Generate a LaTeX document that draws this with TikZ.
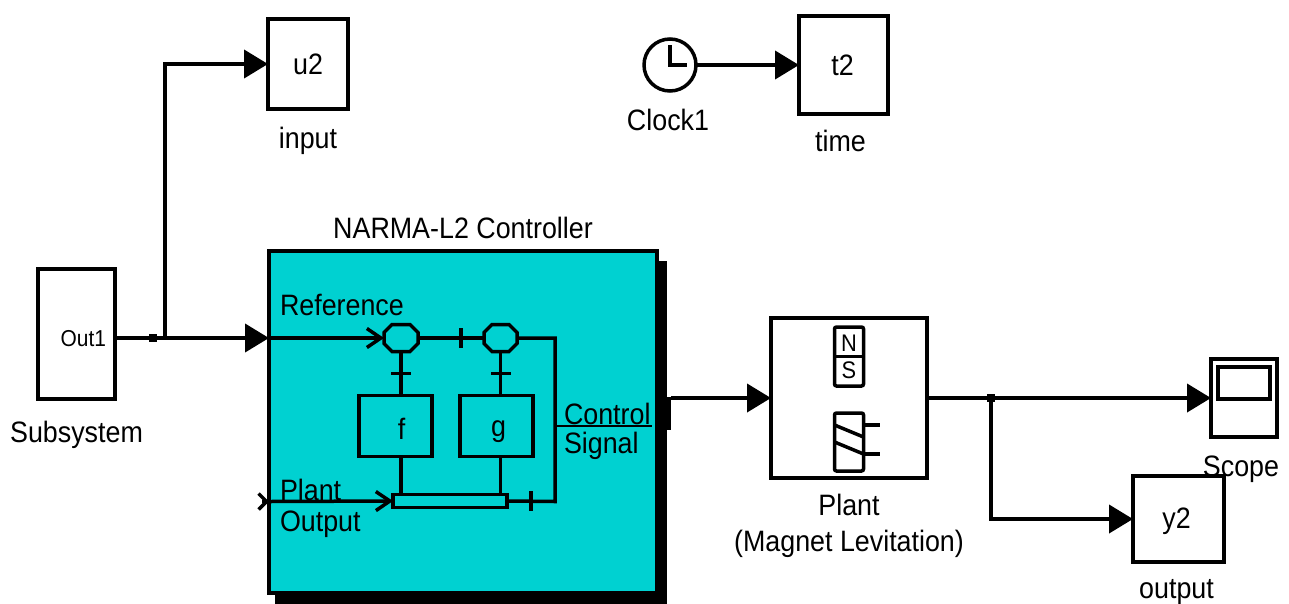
\documentclass[tikz,border=0pt]{standalone}
\usepackage{fontspec}
\setmainfont[FakeStretch=0.91]{Liberation Sans}
\usetikzlibrary{positioning,arrows.meta,shadows}
\definecolor{narmacyan}{RGB}{0,209,209}
\tikzset{
  blockbox/.style={draw,line width=4pt,inner sep=0pt,outer sep=0pt,fill=white},
  innerbox/.style={draw,line width=3.5pt,inner sep=0pt,outer sep=0pt},
  sumbox/.style={inner sep=0pt,outer sep=0pt,minimum height=27pt},
  lbl/.style={font=\fontsize{29.5}{36}\selectfont,inner sep=0pt,outer sep=0pt},
  wire/.style={line width=4pt,-{Triangle[length=24pt,width=28pt]}},
  innerwire/.style={line width=3.5pt},
  barbwire/.style={line width=3.5pt,-{Straight Barb[length=14pt,width=19pt,line width=3.5pt]}},
  joint/.style={fill=black,minimum size=8pt,inner sep=0pt,outer sep=0pt},
  tickv/.style={fill=black,minimum width=3.5pt,minimum height=20pt,inner sep=0pt},
  tickh/.style={fill=black,minimum width=20pt,minimum height=3.5pt,inner sep=0pt},
}
\begin{document}
\begin{tikzpicture}[x=1pt,y=-1pt]
\useasboundingbox (0,0) rectangle (1289,603);
% top row and left block
\node[blockbox,minimum width=77pt,minimum height=130pt] (subsystem) at (76.5,334) {};
\node[lbl,font=\fontsize{23}{24}\selectfont,left=9pt of subsystem.east,yshift=-5pt] (out1) {Out1};
\node[lbl,below=22pt of subsystem] (subsystemlbl) {Subsystem};
\node[blockbox,minimum width=80pt,minimum height=90pt,right=153pt of subsystem.east,yshift=270pt] (u2) {};
\node[lbl] (u2txt) at (u2) {u2};
\node[lbl,below=18pt of u2] (inputlbl) {input};
\node[blockbox,circle,minimum size=52pt,line width=3.5pt,right=296pt of u2.east,yshift=-1pt] (clock) {};
\draw[line width=3.5pt] ([yshift=20pt]clock.center) -- (clock.center) -- ([xshift=17pt]clock.center);
\node[lbl,below=18pt of clock,xshift=-2pt] (clocklbl) {Clock1};
\node[blockbox,minimum width=89pt,minimum height=98pt,right=103pt of clock] (t2) {};
\node[lbl,xshift=-1pt] (t2txt) at (t2) {t2};
\node[lbl,below=16pt of t2,xshift=-3pt] (timelbl) {time};
% controller
\node[blockbox,fill=narmacyan,minimum width=388pt,minimum height=342pt,right=154pt of subsystem.east,yshift=-88pt,
  copy shadow={shadow xshift=8pt,shadow yshift=-12pt,fill=black,draw=black}] (controller) {};
\node[lbl,above=12pt of controller] (controllerlbl) {NARMA-L2 Controller};
\node[fill=black,minimum width=12pt,minimum height=33pt,inner sep=0pt,outer sep=0pt,right=390pt of controller.west,yshift=8.5pt] (port) {};
\node[lbl,right=11pt of controller.west,yshift=117pt] (reflbl) {Reference};
\node[lbl,right=11pt of controller.west,yshift=-68pt] (plantin) {Plant};
\node[lbl,right=11pt of controller.west,yshift=-102pt] (outputin) {Output};
\node[lbl,right=295pt of controller.west,yshift=8pt] (controltxt) {Control};
\node[lbl,right=295pt of controller.west,yshift=-24pt] (signaltxt) {Signal};
\node[sumbox,minimum width=34pt,right=115pt of controller.west,yshift=84pt] (sumf) {};
\node[sumbox,minimum width=33pt,right=66pt of sumf] (sumg) {};
\foreach \s in {sumf,sumg}
  \draw[innerwire] ([xshift=8pt]\s.north west) -- ([xshift=-8pt]\s.north east) -- ([yshift=-8pt]\s.north east)
    -- ([yshift=8pt]\s.south east) -- ([xshift=-8pt]\s.south east) -- ([xshift=8pt]\s.south west)
    -- ([yshift=8pt]\s.south west) -- ([yshift=-8pt]\s.north west) -- cycle;
\node[innerbox,minimum width=73pt,minimum height=61pt,below=44pt of sumf,xshift=-5.5pt] (f) {};
\node[lbl,xshift=6pt,yshift=-3pt] (ftxt) at (f) {f};
\node[innerbox,minimum width=73pt,minimum height=61pt,right=28pt of f] (g) {};
\node[lbl,xshift=2pt,yshift=-6pt] (gtxt) at (g) {g};
\node[innerbox,minimum width=114pt,minimum height=13pt,below=38pt of f,xshift=54.5pt] (bar) {};
\coordinate (topcorner) at (555,338);
\coordinate (botcorner) at (555,501.5);
\coordinate (tap) at (555,426);
\coordinate (tapend) at (652,426);
\coordinate (refin) at (269,338);
\coordinate (plantport) at (269,501.5);
\coordinate (plantstub) at (262,501.5);
\draw[barbwire] (refin) -- (sumf.west);
\draw[line width=3.5pt,-{Straight Barb[length=8pt,width=16pt,line width=3.5pt]}] (plantstub) -- (plantport);
\draw[barbwire] (plantport) -- (bar.west);
\draw[innerwire] (sumf.east) -- node[tickv,pos=0.65] (tick1) {} (sumg.west);
\draw[innerwire] (sumg.east) -- (topcorner) -- (botcorner) -- node[tickv,pos=0.5] (tick2) {} (bar.east);
\draw[line width=2.5pt] (tap) -- (tapend);
\draw[innerwire] (sumf.south) -- node[tickh,pos=0.5] (tick3) {} (sumf.south |- f.north);
\draw[innerwire] (sumg.south) -- node[tickh,pos=0.5] (tick4) {} (sumg.south |- g.north);
\draw[innerwire] (sumf.south |- f.south) -- (sumf.south |- bar.north);
\draw[innerwire] (sumg.south |- g.south) -- (sumg.south |- bar.north);
% plant
\node[blockbox,minimum width=156pt,minimum height=160pt,right=114pt of controller,yshift=24pt] (plant) {};
\node[lbl,align=center,below=16pt of plant] (plantlbl) {Plant\\(Magnet Levitation)};
\node[innerbox,rounded corners=2pt,minimum width=29pt,minimum height=59pt,below=9pt of plant.north] (magnet) {};
\draw[innerwire] (magnet.west) -- (magnet.east);
\node[lbl,font=\fontsize{24}{24}\selectfont,above=5pt of magnet.center] (magn) {N};
\node[lbl,font=\fontsize{24}{24}\selectfont,below=5pt of magnet.center] (mags) {S};
\node[innerbox,rounded corners=2pt,minimum width=29pt,minimum height=58pt,above=7pt of plant.south] (coil) {};
\draw[innerwire] ([yshift=-12pt]coil.north west) -- ([yshift=-24pt]coil.north east);
\draw[innerwire] ([yshift=-29pt]coil.north west) -- ([yshift=-41pt]coil.north east);
\draw[innerwire] ([yshift=-12pt]coil.north east) -- ++(16,0);
\draw[innerwire] ([yshift=-41pt]coil.north east) -- ++(16,0);
% sinks
\node[blockbox,minimum width=66pt,minimum height=78pt,right=284pt of plant] (scope) {};
\node[innerbox,minimum width=52pt,minimum height=32pt,below=8pt of scope.north] (screen) {};
\node[blockbox,minimum width=91pt,minimum height=86pt,right=206pt of plant,yshift=-121pt] (y2) {};
\node[lbl,xshift=-2pt,yshift=-2pt] (y2txt) at (y2) {y2};
\node[lbl,below=19pt of scope,xshift=-3pt] (scopelbl) {Scope};
\node[lbl,below=17pt of y2,xshift=-2pt] (outputlbl) {output};
% main signal lines
\coordinate (subout) at (115,338);
\coordinate (branch) at (165,338);
\coordinate (portout) at (671,398);
\node[joint,right=34pt of subout] (subjoint) {};
\node[joint,right=60pt of plant.east] (plantjoint) {};
\draw[wire] (subout) -- (refin);
\draw[wire] (branch) |- (u2.west);
\draw[wire] (clock.east) -- (t2.west);
\draw[wire] (portout) -- (plant.west);
\draw[wire] (plant.east) -- (scope.west);
\draw[wire] (plantjoint.center) |- (y2.west);
\end{tikzpicture}
\end{document}
